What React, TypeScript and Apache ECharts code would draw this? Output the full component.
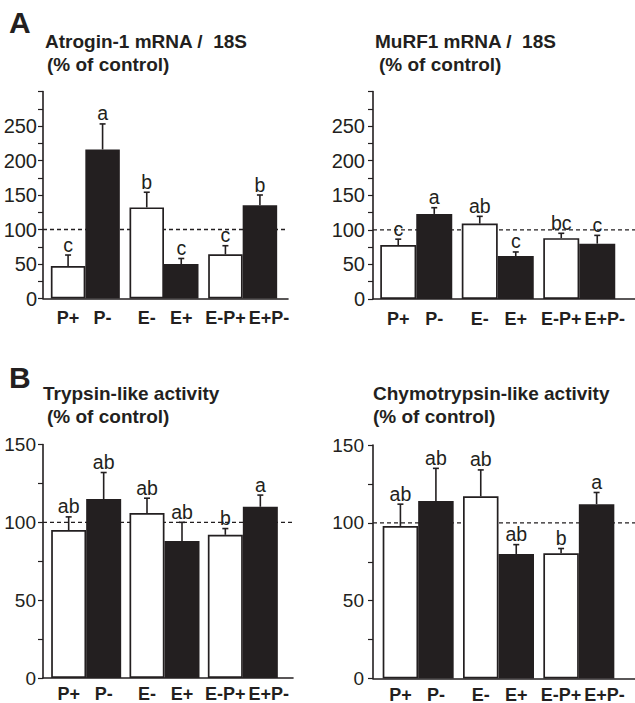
import React, { useEffect, useRef } from 'react';
import * as echarts from 'echarts';

// ---- data ----
const groups = ['P', 'E', 'E×P'];
const barLabels = ['P+', 'P-', 'E-', 'E+', 'E-P+', 'E+P-'];

const atroginMean = [47, 216, 132, 50, 64, 135];
const atroginErr = [16, 37, 22, 8, 12.5, 15];
const atroginLetters = ['c', 'a', 'b', 'c', 'c', 'b'];

const murf1Mean = [78, 123, 109, 62, 88, 80];
const murf1Err = [8.5, 9, 10.5, 6, 7, 12];
const murf1Letters = ['c', 'a', 'ab', 'c', 'bc', 'c'];

const trypsinMean = [95, 115, 106, 88, 92, 110];
const trypsinErr = [8.5, 17, 9.5, 12, 4, 7.5];
const trypsinLetters = ['ab', 'ab', 'ab', 'ab', 'b', 'a'];

const chymoMean = [98, 114, 117, 80, 80.5, 112];
const chymoErr = [14, 21, 17, 6, 3, 7.5];
const chymoLetters = ['ab', 'ab', 'ab', 'ab', 'b', 'a'];

const yTicksMRNA = [0, 50, 100, 150, 200, 250];
const yTicksActivity = [0, 50, 100, 150];
const controlLevel = 100;

const INK = '#231f20';
const FONT = '"Liberation Sans", Arial, Helvetica, sans-serif';
const XLABEL_SIZE = 18;

let measureCtx: CanvasRenderingContext2D | null = null;
function textWidth(text: string): number {
  if (!measureCtx) measureCtx = document.createElement('canvas').getContext('2d');
  if (!measureCtx) return text.length * XLABEL_SIZE * 0.6;
  measureCtx.font = `bold ${XLABEL_SIZE}px ${FONT}`;
  return measureCtx.measureText(text).width;
}

const panels = [
  {
    mean: atroginMean, err: atroginErr, letters: atroginLetters, yMax: 300, yTicks: yTicksMRNA,
    frame: { left: 43, width: 245, top: 91.5, height: 207 },
    bars: { left: 46, width: 236 }, barWidth: 34.5, tickFont: 20, labelMargin: 6, xLabelGap: 10.5,
  },
  {
    mean: murf1Mean, err: murf1Err, letters: murf1Letters, yMax: 300, yTicks: yTicksMRNA,
    frame: { left: 373, width: 262, top: 91.5, height: 207.5 },
    bars: { left: 375.5, width: 244.5 }, barWidth: 36, tickFont: 20, labelMargin: 8, xLabelGap: 10.5,
  },
  {
    mean: trypsinMean, err: trypsinErr, letters: trypsinLetters, yMax: 150, yTicks: yTicksActivity,
    frame: { left: 43, width: 250, top: 444.5, height: 233.5 },
    bars: { left: 47, width: 235 }, barWidth: 35, tickFont: 19, labelMargin: 7, xLabelGap: 7,
  },
  {
    mean: chymoMean, err: chymoErr, letters: chymoLetters, yMax: 150, yTicks: yTicksActivity,
    frame: { left: 373, width: 262, top: 445, height: 233.5 },
    bars: { left: 378, width: 241 }, barWidth: 35.5, tickFont: 19, labelMargin: 9, xLabelGap: 7,
  },
];

function buildOption() {
  const grid: any[] = [];
  const xAxis: any[] = [];
  const yAxis: any[] = [];
  const series: any[] = [];
  const axisLine = { show: true, onZero: false, lineStyle: { color: INK, width: 1.6 } };

  panels.forEach((p, k) => {
    const fi = 2 * k;
    const bi = 2 * k + 1;
    grid.push({ left: p.frame.left, top: p.frame.top, width: p.frame.width, height: p.frame.height });
    grid.push({ left: p.bars.left, top: p.frame.top, width: p.bars.width, height: p.frame.height });

    xAxis.push({
      gridIndex: fi, type: 'value', min: 0, max: 1,
      axisLine, axisTick: { show: false }, axisLabel: { show: false }, splitLine: { show: false },
    });
    xAxis.push({ gridIndex: bi, type: 'category', data: groups, show: false });

    yAxis.push({
      gridIndex: fi, type: 'value', min: 0, max: p.yMax, interval: 25,
      axisLine,
      axisTick: { show: true, length: 5, lineStyle: { color: INK, width: 1.2 } },
      axisLabel: {
        formatter: (v: number) => (p.yTicks.includes(v) ? String(v) : ''),
        fontSize: p.tickFont, color: INK, fontFamily: FONT, margin: p.labelMargin,
      },
      splitLine: { show: false },
    });
    yAxis.push({ gridIndex: bi, type: 'value', min: 0, max: p.yMax, show: false });

    series.push({
      type: 'line', xAxisIndex: fi, yAxisIndex: fi,
      data: [[0, controlLevel], [1, controlLevel]],
      symbol: 'none', silent: true, z: 1,
      lineStyle: { color: INK, width: 1.3, type: [4, 3] },
    });
    series.push({
      type: 'bar', xAxisIndex: bi, yAxisIndex: bi,
      data: p.mean.filter((_, i) => i % 2 === 0),
      barWidth: p.barWidth, barGap: '0%', z: 2, silent: true,
      itemStyle: { color: '#ffffff', borderColor: INK, borderWidth: 1.7 },
    });
    series.push({
      type: 'bar', xAxisIndex: bi, yAxisIndex: bi,
      data: p.mean.filter((_, i) => i % 2 === 1),
      barWidth: p.barWidth, barGap: '0%', z: 2, silent: true,
      itemStyle: { color: INK, borderWidth: 0 },
    });
    series.push({
      type: 'custom', xAxisIndex: bi, yAxisIndex: bi, z: 3, silent: true, clip: false,
      data: p.mean.map((m, i) => [Math.floor(i / 2), m + p.err[i]]),
      encode: { x: 0, y: 1 },
      renderItem: (params: any, api: any) => {
        const i = params.dataIndex;
        const cat = Math.floor(i / 2);
        const isBlack = i % 2 === 1;
        const base = api.coord([cat, 0]);
        const top = api.coord([cat, p.mean[i]]);
        const cap = api.coord([cat, p.mean[i] + p.err[i]]);
        const x = base[0] + ((isBlack ? 1 : -1) * p.barWidth) / 2;
        // bar label: keep the right-hand label clear of its neighbour
        let labelX = x;
        if (isBlack) {
          const whiteCenter = base[0] - p.barWidth / 2;
          const whiteRight = whiteCenter + textWidth(barLabels[i - 1]) / 2;
          labelX = Math.max(x, whiteRight + 3 + textWidth(barLabels[i]) / 2);
        }
        const stroke = { stroke: INK, lineWidth: 1.6 };
        return {
          type: 'group',
          children: [
            { type: 'line', shape: { x1: x, y1: top[1], x2: x, y2: cap[1] }, style: stroke },
            { type: 'line', shape: { x1: x - 3, y1: cap[1], x2: x + 3, y2: cap[1] }, style: stroke },
            {
              type: 'text', x, y: cap[1] - 0.5,
              style: {
                text: p.letters[i], fill: INK, fontSize: 19.5, fontFamily: FONT,
                align: 'center', verticalAlign: 'bottom',
              },
            },
            {
              type: 'text', x: labelX, y: base[1] + p.xLabelGap,
              style: {
                text: barLabels[i], fill: INK, fontSize: XLABEL_SIZE, fontWeight: 'bold', fontFamily: FONT,
                align: 'center', verticalAlign: 'top',
              },
            },
          ],
        };
      },
    });
  });

  const txt = (text: string, x: number, y: number, size: number) => ({
    type: 'text', x, y, silent: true,
    style: { text, fill: INK, fontSize: size, fontWeight: 'bold', fontFamily: FONT, align: 'left', verticalAlign: 'middle' },
  });

  const graphic = [
    txt('A', 9, 22, 30),
    txt('Atrogin-1 mRNA /\u00a0 18S', 45, 41, 19),
    txt('(% of control)', 47, 64, 19),
    txt('MuRF1 mRNA /\u00a0 18S', 375, 41, 19),
    txt('(% of control)', 379, 64, 19),
    txt('B', 9, 377, 30),
    txt('Trypsin-like activity', 43, 393, 19),
    txt('(% of control)', 47, 416, 19),
    txt('Chymotrypsin-like activity', 373, 393, 19),
    txt('(% of control)', 373, 416, 19),
  ];

  return {
    animation: false,
    backgroundColor: '#ffffff',
    textStyle: { fontFamily: FONT },
    grid, xAxis, yAxis, series, graphic,
  };
}

export default function App() {
  const ref = useRef<HTMLDivElement>(null);
  useEffect(() => {
    if (!ref.current) return;
    const chart = echarts.init(ref.current, undefined, { renderer: 'svg' });
    chart.setOption(buildOption() as any);
    return () => chart.dispose();
  }, []);
  return (
    <div
      ref={ref}
      style={{ position: 'absolute', left: 0, top: 0, width: 635, height: 703, background: '#fff' }}
    />
  );
}
